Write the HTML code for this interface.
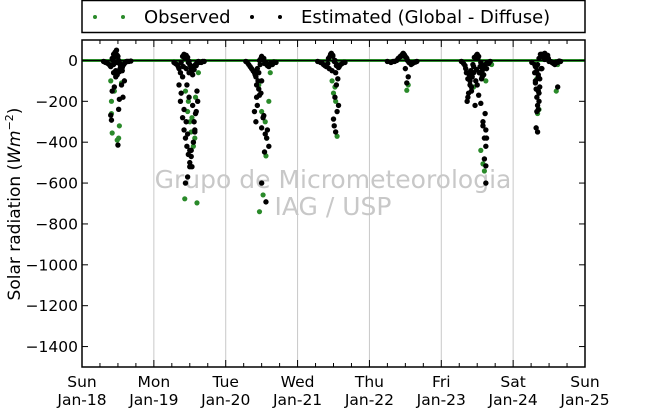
<!DOCTYPE html>
<html><head><meta charset="utf-8"><style>
body{margin:0;background:#fff;}
svg{display:block;font-family:"DejaVu Sans","Liberation Sans",sans-serif;}
</style></head><body>
<svg id="chart" width="650" height="409" viewBox="0 0 650 409" xmlns="http://www.w3.org/2000/svg">
<rect x="0" y="0" width="650" height="409" fill="#fff"/>
<g id="grid"></g>
<text x="333" y="188" font-size="25" fill="#c8c8c8" text-anchor="middle">Grupo de Micrometeorologia</text>
<text x="333" y="215" font-size="25" fill="#c8c8c8" text-anchor="middle">IAG / USP</text>
<g id="marks"></g>
<g id="axes"></g>
<text transform="translate(20,204) rotate(-90)" font-size="17" text-anchor="middle">Solar radiation (<tspan font-style="italic">Wm</tspan><tspan font-size="11" dy="-7">−2</tspan><tspan dy="7">)</tspan></text>
<g>
<rect x="82" y="0.5" width="503" height="32" fill="#fff" stroke="#000" stroke-width="1.5"/>
<circle cx="95" cy="17" r="2" fill="#2a8a2a"/>
<circle cx="123" cy="17" r="2" fill="#2a8a2a"/>
<text x="144" y="23" font-size="18">Observed</text>
<circle cx="252" cy="17" r="2" fill="#000"/>
<circle cx="280" cy="17" r="2" fill="#000"/>
<text x="301" y="23" font-size="18">Estimated (Global - Diffuse)</text>
</g>
</svg>
<script>
const dayLabels = ["Sun","Mon","Tue","Wed","Thu","Fri","Sat","Sun"];
const dateLabels = ["Jan-18","Jan-19","Jan-20","Jan-21","Jan-22","Jan-23","Jan-24","Jan-25"];
const yTicks = [0,-200,-400,-600,-800,-1000,-1200,-1400];
const yTickLabels = ["0","−200","−400","−600","−800","−1000","−1200","−1400"];
const estTimes = [0.30,0.33,0.36,0.38,0.40,0.42,0.44,0.46,0.48,0.50,0.52,0.54,0.56,0.58,0.60,0.62,0.65,0.40,0.41,0.42,0.50,0.51,0.52,0.55,0.57,0.59,0.44,0.47,0.49,0.53,0.45,0.47,
0.32,0.35,0.39,0.43,0.45,0.47,0.49,0.51,0.53,0.55,0.57,0.59,0.61,0.63,0.68,0.44,0.48,0.52,0.56,
1.28,1.32,1.35,1.38,1.40,1.42,1.44,1.46,1.48,1.50,1.52,1.55,1.58,1.60,1.62,1.66,1.70,1.35,1.37,1.40,1.42,1.44,1.46,1.48,1.50,1.52,1.55,1.57,1.59,1.61,1.38,1.42,1.45,1.47,1.50,1.53,1.56,1.58,1.60,1.44,1.47,1.50,1.52,1.57,1.40,1.46,1.49,1.54,
1.30,1.34,1.37,1.41,1.43,1.45,1.47,1.49,1.51,1.53,1.56,1.59,1.63,1.68,1.45,1.49,1.54,
2.28,2.32,2.36,2.40,2.42,2.45,2.48,2.50,2.53,2.56,2.60,2.65,2.70,2.40,2.42,2.44,2.47,2.50,2.52,2.55,2.57,2.60,2.43,2.49,2.53,2.58,2.50,2.56,2.54,2.50,2.46,
2.30,2.34,2.38,2.41,2.44,2.47,2.49,2.51,2.54,2.58,2.62,2.67,2.43,2.46,
3.28,3.32,3.36,3.40,3.43,3.46,3.49,3.52,3.55,3.58,3.62,3.66,3.50,3.51,3.53,3.55,3.57,3.52,3.54,3.56,3.53,
3.34,3.38,3.42,3.45,3.47,3.49,3.51,3.54,3.57,3.60,3.64,3.44,3.48,
4.25,4.30,4.35,4.40,4.43,4.46,4.49,4.52,4.55,4.58,4.62,4.66,4.52,4.54,4.50,
4.33,4.38,4.42,4.45,4.47,4.49,4.51,4.53,4.56,4.60,4.64,4.44,4.48,
5.28,5.31,5.34,5.37,5.40,5.42,5.45,5.48,5.50,5.52,5.55,5.58,5.61,5.64,5.68,5.36,5.38,5.40,5.43,5.47,5.50,5.53,5.56,5.58,5.60,5.62,5.37,5.42,5.48,5.52,5.58,5.62,5.60,5.62,5.63,5.61,5.62,5.55,5.59,
5.33,5.35,5.39,5.41,5.44,5.46,5.49,5.51,5.54,5.57,5.63,5.66,5.45,5.49,5.53,5.57,
6.26,6.30,6.32,6.34,6.36,6.38,6.40,6.43,6.46,6.50,6.54,6.58,6.62,6.66,6.30,6.31,6.32,6.33,6.34,6.35,6.36,6.37,6.32,6.34,6.36,6.33,6.35,6.40,6.62,
6.31,6.33,6.35,6.37,6.39,6.42,6.44,6.45,6.47,6.49,6.52,6.56,6.60,6.64,6.44,6.48,6.31,6.35];
const estValues = [-5,-10,-15,-20,-30,10,30,40,50,20,-10,-30,-50,-20,-10,-5,-5,-268,-292,-150,-414,-239,-190,-120,-180,-100,-60,-80,-70,-40,-130,-50,
-8,-12,-25,0,15,35,25,0,-20,-40,-25,-15,-8,-5,-3,-20,-10,-55,-35,
-10,-20,-40,-10,20,30,20,10,-10,-20,-40,-30,-20,-10,-5,-10,-5,-120,-200,-280,-340,-380,-420,-460,-500,-470,-400,-350,-250,-200,-160,-240,-300,-360,-440,-520,-300,-260,-150,-600,-570,-520,-440,-340,-80,-120,-180,-220,
-15,-30,-60,-30,10,25,15,-5,-25,-50,-45,-25,-10,-5,-40,-60,-70,
-5,-20,-40,-60,-80,-100,-20,20,10,-10,-30,-20,-10,-250,-300,-220,-170,-330,-280,-360,-380,-420,-180,-160,-270,-340,-600,-692,-448,-100,-60,
-10,-30,-50,-70,-40,0,10,5,-15,-25,-15,-8,-120,-140,
-5,-10,-20,-30,10,30,20,0,-20,-30,-15,-10,-287,-320,-350,-250,-220,-180,-120,-90,-60,
-12,-25,-15,20,35,25,-5,-25,-35,-20,-10,-40,-50,
-5,-10,-5,10,20,30,20,10,-10,-20,-10,-5,-110,-80,-40,
-5,0,15,25,35,25,15,0,-10,-15,-8,20,30,
-5,-15,-40,-90,-120,-150,-30,10,30,20,-10,-30,-20,-10,-5,-200,-160,-100,-80,-220,-120,-60,-90,-300,-380,-420,-180,-130,-100,-170,-320,-516,-482,-600,-380,-260,-340,-210,-70,
-25,-60,-70,-50,-20,15,25,10,-30,-50,-40,-15,-60,-45,-60,-80,
-10,-20,-30,-20,10,30,30,20,10,-5,-10,-20,-10,-5,-60,-100,-140,-180,-220,-240,-200,-130,-330,-350,-160,-250,-80,-40,-130,
-30,-50,-70,-90,-40,15,35,25,20,10,-5,-15,-8,-3,5,25,-110,-150];
const obsTimes = [0.38,0.40,0.41,0.42,0.49,0.51,0.45,0.47,0.55,0.44,0.41,0.52,
1.40,1.44,1.47,1.50,1.52,1.55,1.57,1.48,1.53,1.58,1.62,1.43,1.60,
2.46,2.50,2.55,2.57,2.56,2.60,2.52,2.47,2.62,
3.48,3.50,3.53,3.55,3.52,3.60,
4.52,4.54,
5.40,5.45,5.60,5.58,5.55,5.62,5.38,5.70,
6.33,6.35,6.36,6.34,6.60,6.62];
const obsValues = [-20,-100,-200,-355,-390,-380,-150,-70,-110,-60,-260,-320,
-80,-150,-250,-300,-350,-420,-380,-200,-280,-180,-60,-677,-697,
-120,-250,-300,-380,-467,-200,-658,-740,-60,
-100,-160,-200,-371,-130,-20,
-146,-120,
-80,-130,-541,-506,-440,-100,-60,-20,
-90,-150,-240,-260,-150,-20];
const ns="http://www.w3.org/2000/svg";
const X0=82,X1=585,Y0=40,Y1=367,VMIN=-1500,VMAX=100;
function xs(t){return X0+(X1-X0)*t/7;}
function ys(v){return Y1-(Y1-Y0)*(v-VMIN)/(VMAX-VMIN);}
function mk(tag,attrs,parent){const e=document.createElementNS(ns,tag);for(const k in attrs)e.setAttribute(k,attrs[k]);parent.appendChild(e);return e;}
const grid=document.getElementById('grid'),axes=document.getElementById('axes'),marks=document.getElementById('marks');
for(let d=1;d<7;d++){const l=mk('line',{x1:xs(d),x2:xs(d),y1:Y0,y2:Y1,stroke:'#c8c8c8','stroke-width':1},grid);

}
const bl=mk('line',{x1:X0,x2:X1,y1:ys(0),y2:ys(0),stroke:'#2a8a2a','stroke-width':3},marks);


const zl=mk('line',{x1:X0,x2:X1,y1:ys(0),y2:ys(0),stroke:'#000','stroke-width':1},marks);


for(let i=0;i<obsTimes.length;i++){const c=mk('circle',{cx:xs(obsTimes[i]),cy:ys(obsValues[i]),r:2.6,fill:'#2a8a2a'},marks);

}
for(let i=0;i<estTimes.length;i++){const c=mk('circle',{cx:xs(estTimes[i]),cy:ys(estValues[i]),r:2.7,fill:'#000'},marks);

}
const fr=mk('rect',{x:X0,y:Y0,width:X1-X0,height:Y1-Y0,fill:'none',stroke:'#000','stroke-width':1.5},axes);


for(let q=0;q<=28;q++){const x=xs(q/4),len=(q%4===0)?7:4;
mk('line',{x1:x,x2:x,y1:Y1,y2:Y1-len,stroke:'#000','stroke-width':1},axes);
mk('line',{x1:x,x2:x,y1:Y0,y2:Y0+len,stroke:'#000','stroke-width':1},axes);}
for(let d=0;d<dayLabels.length;d++){const t=mk('text',{x:xs(d),y:387,'font-size':15.5,'text-anchor':'middle'},axes);t.textContent=dayLabels[d];


const t2=mk('text',{x:xs(d),y:405,'font-size':15.5,'text-anchor':'middle'},axes);t2.textContent=dateLabels[d];

}
for(let i=0;i<yTicks.length;i++){const y=ys(yTicks[i]);
mk('line',{x1:X0,x2:X0+6,y1:y,y2:y,stroke:'#000'},axes);mk('line',{x1:X1,x2:X1-6,y1:y,y2:y,stroke:'#000'},axes);
const t=mk('text',{x:X0-4,y:y+5.5,'font-size':15.5,'text-anchor':'end'},axes);t.textContent=yTickLabels[i];

}
</script>
</body></html>
